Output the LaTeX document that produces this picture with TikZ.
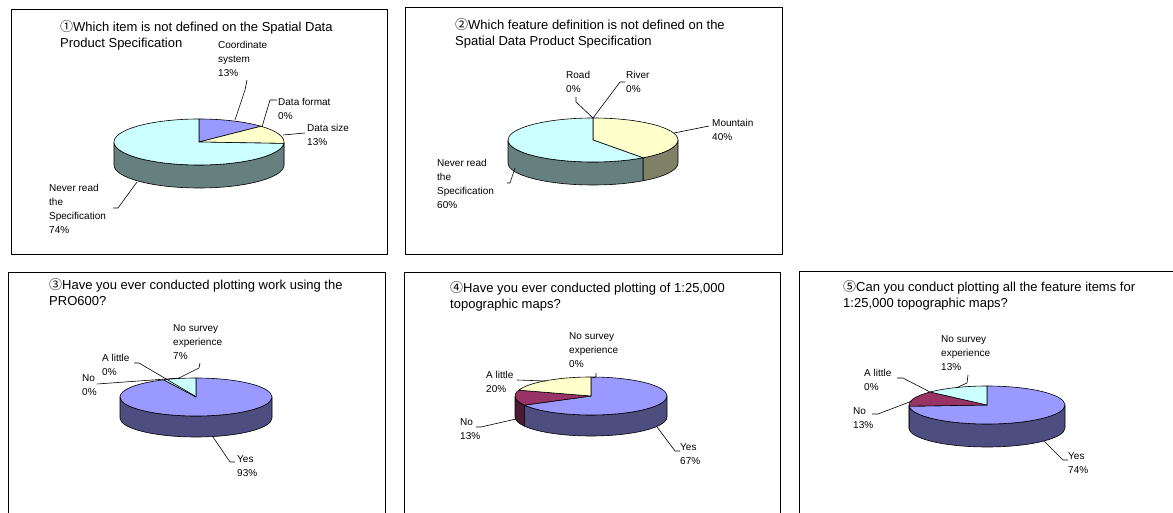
\documentclass[tikz,border=0pt]{standalone}
\usepackage{fontspec}
\setmainfont{Liberation Sans}
\newfontfamily\circfont{Noto Sans CJK JP}
\definecolor{purTop}{HTML}{9999FF}
\definecolor{purSide}{HTML}{4D4D80}
\definecolor{cyaTop}{HTML}{CCFFFF}
\definecolor{cyaSide}{HTML}{668080}
\definecolor{yelTop}{HTML}{FFFFCC}
\definecolor{yelSide}{HTML}{808066}
\definecolor{plmTop}{HTML}{993366}
\definecolor{plmSide}{HTML}{4D1A33}
% top face of a pie slice: cx, cy, rx, ry, from angle, to angle, colour
\newcommand\pietop[7]{%
  \filldraw[pieline, fill=#7] (#1,#2) -- ({#1+#3*cos(#5)},{#2+#4*sin(#5)})
    arc[start angle=#5, end angle=#6, x radius=#3, y radius=#4] -- cycle;}
% visible rim of a pie slice: cx, cy, rx, ry, depth, from angle, to angle, colour
\newcommand\pieside[8]{%
  \filldraw[pieline, fill=#8] ({#1+#3*cos(#6)},{#2+#4*sin(#6)})
    arc[start angle=#6, end angle=#7, x radius=#3, y radius=#4] -- ++(0,-#5)
    arc[start angle=#7, end angle=#6, x radius=#3, y radius=#4] -- cycle;}
\newcommand\cnum[1]{{\circfont\smash{#1}}}
\begin{document}
\begin{tikzpicture}[x=1pt,y=1pt,
  panel/.style={draw=black, line width=0.9pt},
  pieline/.style={draw=black, line width=0.6pt, line join=round},
  leader/.style={draw=black, line width=0.6pt},
  lbl/.style={anchor=north west, inner sep=0pt, align=left, font=\fontsize{10}{14}\selectfont},
  ttl/.style={anchor=north west, inner sep=0pt, align=left, font=\fontsize{13}{15.5}\selectfont}]
\useasboundingbox (0,0) rectangle (1173,-513);

% ---------- frames ----------
\draw[panel] (11,-9) rectangle (387,-254);
\draw[panel] (405,-7) rectangle (782,-254);
\draw[panel] (8,-514) -- (8,-272) -- (385,-272) -- (385,-514);
\draw[panel] (404,-514) -- (404,-272) -- (780,-272) -- (780,-514);
\draw[panel] (1174,-271) -- (799,-271) -- (799,-514);

% ---------- chart 1 ----------
\node[ttl] (t1) at (60,-22) {\cnum{①}Which item is not defined on the Spatial Data\\Product Specification};
\pieside{199}{-142}{85}{23}{23}{0}{-3.6}{yelSide}
\pieside{199}{-142}{85}{23}{23}{-3.6}{-180}{cyaSide}
\pietop{199}{-142}{85}{23}{90}{43.2}{purTop}
\pietop{199}{-142}{85}{23}{43.2}{-3.6}{yelTop}
\pietop{199}{-142}{85}{23}{-3.6}{-270}{cyaTop}
\node[lbl] (c1a) at (218,-41.5) {Coordinate\\system\\13\%};
\node[lbl] (c1b) at (278,-98.5) {Data format\\0\%};
\node[lbl] (c1c) at (307,-124.5) {Data size\\13\%};
\node[lbl] (c1d) at (49,-184.5) {Never read\\the\\Specification\\74\%};
\coordinate (e1a) at (235,-120);
\coordinate (e1b) at (262,-127);
\coordinate (e1c) at (283,-135);
\coordinate (e1d) at (137,-182);
\draw[leader] (e1a) -- (245,-90) -- (247,-80);
\draw[leader] (e1b) -- (270,-100) -- (277,-100);
\draw[leader] (e1c) -- (305,-133);
\draw[leader] (e1d) -- (118,-208) -- (113,-208);

% ---------- chart 2 ----------
\node[ttl] (t2) at (455,-20) {\cnum{②}Which feature definition is not defined on the\\Spatial Data Product Specification};
\pieside{593}{-140}{85}{22}{23}{0}{-54}{yelSide}
\pieside{593}{-140}{85}{22}{23}{-54}{-180}{cyaSide}
\pietop{593}{-140}{85}{22}{90}{-54}{yelTop}
\pietop{593}{-140}{85}{22}{-54}{-270}{cyaTop}
\node[lbl] (c2a) at (566,-71.5) {Road\\0\%};
\node[lbl] (c2b) at (626,-71.5) {River\\0\%};
\node[lbl] (c2c) at (712,-119.5) {Mountain\\40\%};
\node[lbl] (c2d) at (437,-159.5) {Never read\\the\\Specification\\60\%};
\coordinate (e2a) at (593,-118);
\coordinate (e2c) at (674,-133);
\coordinate (e2d) at (515,-168);
\draw[leader] (e2a) -- (576,-102) -- (576,-97);
\draw[leader] (e2a) -- (620,-82) -- (625,-82);
\draw[leader] (e2c) -- (709,-126);
\draw[leader] (e2d) -- (510,-183) -- (507,-183);

% ---------- chart 3 ----------
\node[ttl] (t3) at (49,-280) {\cnum{③}Have you ever conducted plotting work using the\\PRO600?};
\pieside{196}{-397}{76}{19}{21}{0}{-180}{purSide}
\pietop{196}{-397}{76}{19}{90}{-244.8}{purTop}
\pietop{196}{-397}{76}{19}{-244.8}{-270}{cyaTop}
\node[lbl] (c3a) at (173,-324.5) {No survey\\experience\\7\%};
\node[lbl] (c3b) at (102,-354.5) {A little\\0\%};
\node[lbl] (c3c) at (82,-374.5) {No\\0\%};
\node[lbl] (c3d) at (237,-455.5) {Yes\\93\%};
\coordinate (e3a) at (179,-378);
\coordinate (e3b) at (195,-396);
\coordinate (e3c) at (180,-378);
\coordinate (e3d) at (213,-437);
\draw[leader] (e3a) -- (199,-368) -- (200,-363);
\draw[leader] (e3b) -- (139,-363) -- (134,-363);
\draw[leader] (e3c) -- (97,-384);
\draw[leader] (e3d) -- (230,-462) -- (235,-462);

% ---------- chart 4 ----------
\node[ttl] (t4) at (450,-283) {\cnum{④}Have you ever conducted plotting of 1:25,000\\topographic maps?};
\pieside{591}{-396}{76}{19}{21}{0}{-151.2}{purSide}
\pieside{591}{-396}{76}{19}{21}{-151.2}{-180}{plmSide}
\pietop{591}{-396}{76}{19}{90}{-151.2}{purTop}
\pietop{591}{-396}{76}{19}{-151.2}{-198}{plmTop}
\pietop{591}{-396}{76}{19}{-198}{-270}{yelTop}
\node[lbl] (c4a) at (569,-332.5) {No survey\\experience\\0\%};
\node[lbl] (c4b) at (486,-371.5) {A little\\20\%};
\node[lbl] (c4c) at (460,-418.5) {No\\13\%};
\node[lbl] (c4d) at (680,-443.5) {Yes\\67\%};
\coordinate (e4a) at (592,-378);
\coordinate (e4b) at (546,-381);
\coordinate (e4c) at (516,-419);
\coordinate (e4d) at (657,-427);
\draw[leader] (e4a) -- (596,-377) -- (596,-373);
\draw[leader] (e4b) -- (517,-380);
\draw[leader] (e4c) -- (481,-427) -- (476,-427);
\draw[leader] (e4d) -- (675,-451) -- (680,-451);

% ---------- chart 5 ----------
\node[ttl] (t5) at (843,-282) {\cnum{⑤}Can you conduct plotting all the feature items for\\1:25,000 topographic maps?};
\pieside{987}{-405}{78}{19}{23}{0}{-176.4}{purSide}
\pieside{987}{-405}{78}{19}{23}{-176.4}{-180}{plmSide}
\pietop{987}{-405}{78}{19}{90}{-176.4}{purTop}
\pietop{987}{-405}{78}{19}{-176.4}{-223.2}{plmTop}
\pietop{987}{-405}{78}{19}{-223.2}{-270}{cyaTop}
\node[lbl] (c5a) at (941,-335.5) {No survey\\experience\\13\%};
\node[lbl] (c5b) at (864,-369.5) {A little\\0\%};
\node[lbl] (c5c) at (853,-407.5) {No\\13\%};
\node[lbl] (c5d) at (1068,-452.5) {Yes\\74\%};
\coordinate (e5a) at (956,-388);
\coordinate (e5b) at (930,-392);
\coordinate (e5c) at (912,-401);
\coordinate (e5d) at (1044,-441);
\draw[leader] (e5a) -- (967,-383) -- (968,-375);
\draw[leader] (e5b) -- (903,-378) -- (897,-378);
\draw[leader] (e5c) -- (878,-414) -- (872,-414);
\draw[leader] (e5d) -- (1063,-460) -- (1068,-460);
\end{tikzpicture}
\end{document}
